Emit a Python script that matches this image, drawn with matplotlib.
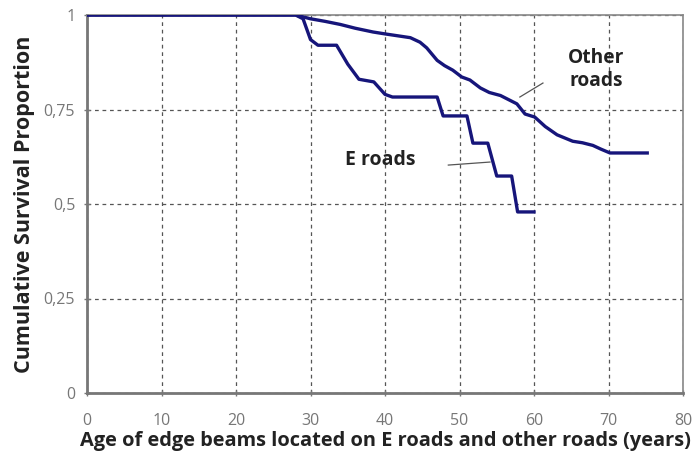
import matplotlib
matplotlib.use("Agg")
import matplotlib.pyplot as plt
from matplotlib.ticker import FixedLocator

# Data
e_age = [0, 28, 29, 30, 31, 33.5, 35, 36.5, 38.5, 40, 41, 47, 47.8, 51, 51.8, 53.8, 55, 57, 57.8, 60]
e_surv = [1, 1, 0.99, 0.935, 0.92, 0.92, 0.87, 0.83, 0.823, 0.79, 0.783, 0.783, 0.733, 0.733,
          0.661, 0.661, 0.574, 0.574, 0.479, 0.479]

o_age = [0, 28, 30, 32, 34, 36, 38.4, 40, 43.4, 44.7, 45.6, 47, 48, 49.1, 50.3, 51.4, 52.8, 54,
         55.5, 56.4, 57.7, 58.8, 60.1, 61.5, 63.1, 65.2, 66.5, 67.9, 69, 70.2, 75.2]
o_surv = [1, 1, 0.99, 0.983, 0.975, 0.965, 0.955, 0.95, 0.94, 0.928, 0.913, 0.88, 0.866, 0.854,
          0.836, 0.828, 0.807, 0.795, 0.787, 0.778, 0.765, 0.738, 0.73, 0.705, 0.683, 0.666,
          0.662, 0.655, 0.645, 0.635, 0.635]

x_ticks = [0, 10, 20, 30, 40, 50, 60, 70, 80]
y_ticks = [0, 0.25, 0.5, 0.75, 1]
y_tick_labels = ["0", "0,25", "0,5", "0,75", "1"]

plt.rcParams['font.family'] = ['Open Sans', 'DejaVu Sans']

fig = plt.figure(figsize=(6.94, 4.57), dpi=100)
ax = fig.add_axes([87/694, 64/457, (683-87)/694, (393-15)/457])

line_color = "#16157a"
ax.plot(o_age, o_surv, color=line_color, lw=2.4, solid_joinstyle='round', zorder=3)
ax.plot(e_age, e_surv, color=line_color, lw=2.4, solid_joinstyle='round', zorder=3)

ax.set_xlim(0, 80)
ax.set_ylim(0, 1)
ax.xaxis.set_major_locator(FixedLocator(x_ticks))
ax.yaxis.set_major_locator(FixedLocator(y_ticks))
ax.set_yticklabels(y_tick_labels)

ax.grid(True, color="#555555", linestyle=(0, (3, 3)), linewidth=0.9)
ax.tick_params(direction='inout', length=5, width=1, colors="#777777",
               labelsize=11.5, labelcolor="#777777")
ax.tick_params(axis='x', pad=12)
ax.tick_params(axis='y', pad=6)

for side in ['left', 'bottom']:
    ax.spines[side].set_color("#777777")
    ax.spines[side].set_linewidth(2)
for side in ['top', 'right']:
    ax.spines[side].set_color("#888888")
    ax.spines[side].set_linewidth(1.2)

ax.set_xlabel("Age of edge beams located on E roads and other roads (years)",
              fontsize=14.4, fontweight='bold', color="#222222", labelpad=1)
ax.set_ylabel("Cumulative Survival Proportion",
              fontsize=15.5, fontweight='bold', color="#222222", labelpad=6)

# Annotations
ax.text(68.3, 0.857, "Other\nroads", ha='center', va='center', fontsize=13.8,
        fontweight='bold', color="#222222", linespacing=1.2)
ax.plot([58.1, 61.2], [0.783, 0.82], color="#555555", lw=0.9)
ax.text(39.3, 0.616, "E roads", ha='center', va='center', fontsize=14,
        fontweight='bold', color="#222222")
ax.plot([48.5, 54.1], [0.603, 0.611], color="#555555", lw=0.9)

fig.savefig("out.png", dpi=100)
